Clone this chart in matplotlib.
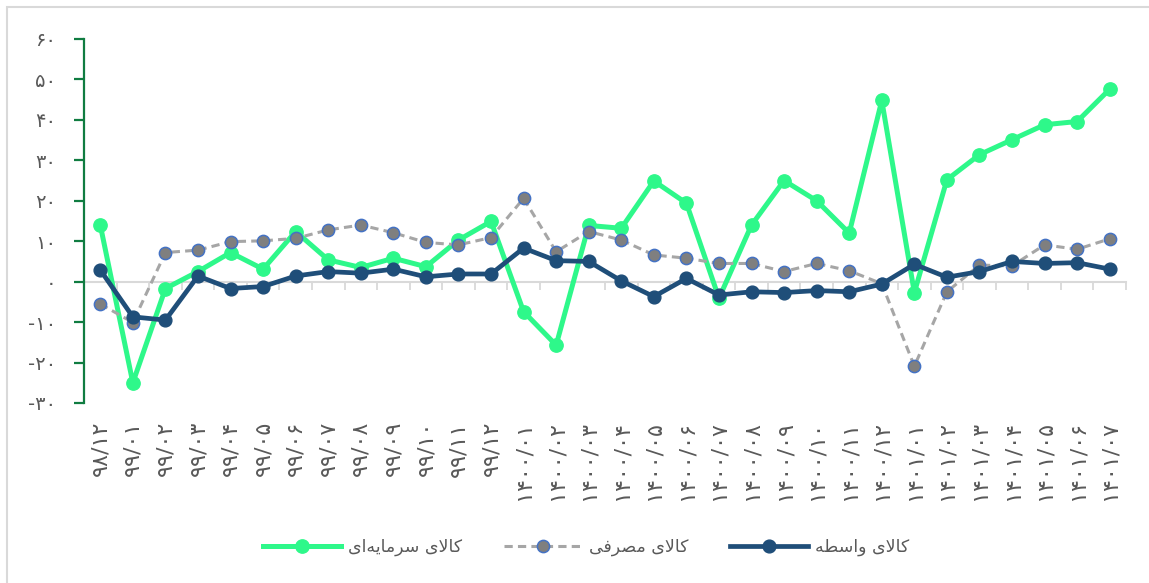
import numpy as np
import matplotlib
matplotlib.use("Agg")
import matplotlib.pyplot as plt
from matplotlib.patches import Rectangle

plt.rcParams['font.family'] = ['DejaVu Sans']

# month labels (Persian calendar)
labels = ['۹۸/۱۲',
          '۹۹/۰۱', '۹۹/۰۲', '۹۹/۰۳', '۹۹/۰۴', '۹۹/۰۵', '۹۹/۰۶',
          '۹۹/۰۷', '۹۹/۰۸', '۹۹/۰۹', '۹۹/۱۰', '۹۹/۱۱', '۹۹/۱۲',
          '۱۴۰۰/۰۱', '۱۴۰۰/۰۲', '۱۴۰۰/۰۳', '۱۴۰۰/۰۴', '۱۴۰۰/۰۵', '۱۴۰۰/۰۶',
          '۱۴۰۰/۰۷', '۱۴۰۰/۰۸', '۱۴۰۰/۰۹', '۱۴۰۰/۱۰', '۱۴۰۰/۱۱', '۱۴۰۰/۱۲',
          '۱۴۰۱/۰۱', '۱۴۰۱/۰۲', '۱۴۰۱/۰۳', '۱۴۰۱/۰۴', '۱۴۰۱/۰۵', '۱۴۰۱/۰۶',
          '۱۴۰۱/۰۷']

capital = [14.0, -25.0, -1.7, 2.5, 7.2, 3.1, 12.4, 5.4, 3.5, 5.8, 3.7, 10.3, 14.9,
           -7.4, -15.7, 13.9, 13.2, 24.9, 19.4, -4.1, 14.0, 25.0, 20.0, 12.0, 44.8,
           -2.7, 25.2, 31.4, 35.1, 38.8, 39.6, 47.6]
consumer = [-5.5, -10.1, 7.2, 7.8, 9.9, 10.1, 10.7, 12.8, 14.0, 12.1, 9.7, 9.1, 10.9,
            20.6, 7.4, 12.4, 10.3, 6.6, 5.8, 4.5, 4.5, 2.5, 4.5, 2.7, -0.5,
            -20.9, -2.5, 4.1, 3.9, 9.1, 8.0, 10.6]
intermediate = [2.9, -8.7, -9.5, 1.4, -1.7, -1.2, 1.4, 2.5, 2.1, 3.1, 1.2, 1.9, 1.9,
                8.3, 5.2, 5.0, 0.2, -3.7, 0.8, -3.3, -2.5, -2.7, -2.2, -2.5, -0.6,
                4.3, 1.1, 2.5, 5.0, 4.5, 4.7, 3.1]

names = ['کالای سرمایه‌ای', 'کالای مصرفی', 'کالای واسطه']
yticks = [-30, -20, -10, 0, 10, 20, 30, 40, 50, 60]

# --- minimal Persian shaping (matplotlib has no complex text layout) ---
FORMS = {
    'ا': ('\uFE8D', '\uFE8E', None, None),
    'ل': ('\uFEDD', '\uFEDE', '\uFEDF', '\uFEE0'),
    'ک': ('\uFB8E', '\uFB8F', '\uFB90', '\uFB91'),
    'ی': ('\uFBFC', '\uFBFD', '\uFBFE', '\uFBFF'),
    'س': ('\uFEB1', '\uFEB2', '\uFEB3', '\uFEB4'),
    'ر': ('\uFEAD', '\uFEAE', None, None),
    'م': ('\uFEE1', '\uFEE2', '\uFEE3', '\uFEE4'),
    'ه': ('\uFEE9', '\uFEEA', '\uFEEB', '\uFEEC'),
    'ص': ('\uFEB9', '\uFEBA', '\uFEBB', '\uFEBC'),
    'ف': ('\uFED1', '\uFED2', '\uFED3', '\uFED4'),
    'و': ('\uFEED', '\uFEEE', None, None),
    'ط': ('\uFEC1', '\uFEC2', '\uFEC3', '\uFEC4'),
}


def shape(text):
    words = []
    for word in text.split(' '):
        toks = []
        i = 0
        while i < len(word):
            if word[i] == 'ل' and i + 1 < len(word) and word[i + 1] == 'ا':
                toks.append('LA')
                i += 2
            else:
                toks.append(word[i])
                i += 1
        out = []
        for k, t in enumerate(toks):
            if t not in FORMS and t != 'LA':
                continue
            prev = toks[k - 1] if k > 0 else None
            nxt = toks[k + 1] if k + 1 < len(toks) else None
            jp = prev in FORMS and FORMS[prev][2] is not None
            if t == 'LA':
                out.append('\uFEFC' if jp else '\uFEFB')
                continue
            iso, fin, ini, med = FORMS[t]
            jn = ini is not None and (nxt in FORMS or nxt == 'LA')
            if jp and jn:
                out.append(med)
            elif jp:
                out.append(fin)
            elif jn:
                out.append(ini)
            else:
                out.append(iso)
        words.append(''.join(reversed(out)))
    return ' '.join(reversed(words))


def fa(n):
    s = str(abs(n)).translate(str.maketrans('0123456789', '۰۱۲۳۴۵۶۷۸۹'))
    return '-' + s if n < 0 else s


x = np.arange(len(labels))

fig = plt.figure(figsize=(11.49, 5.83), dpi=100)
ax = fig.add_axes([84 / 1149, 1 - 403 / 583, 1042 / 1149, 364 / 583])

ax.plot(x, capital, color='#2ef88a', lw=3.6, marker='o', ms=9.6,
        solid_joinstyle='round', label=shape(names[0]), zorder=3)
ax.plot(x, consumer, color='#a6a6a6', lw=2.2, ls=(0, (2.7, 1.7)), marker='o', ms=8.8,
        mfc='#7f7f7f', mec='#4472c4', mew=1.1, label=shape(names[1]), zorder=4)
ax.plot(x, intermediate, color='#1f4e79', lw=3.4, marker='o', ms=9.2,
        solid_joinstyle='round', label=shape(names[2]), zorder=5)

ax.set_xlim(-0.5, len(labels) - 0.5)
ax.set_ylim(-30, 60)

for s in ['top', 'right', 'bottom']:
    ax.spines[s].set_visible(False)
ax.spines['left'].set_color('#107c41')
ax.spines['left'].set_linewidth(1.6)

ax.set_yticks(yticks)
ax.set_yticklabels([fa(v) for v in yticks])
ax.tick_params(axis='y', direction='out', length=7, width=1.6, color='#107c41',
               labelcolor='#595959', labelsize=14, pad=13)

ax.set_xticks(x)
ax.set_xticklabels(labels, rotation=90)
ax.tick_params(axis='x', length=0, labelcolor='#595959', labelsize=16, pad=13)

# horizontal axis line at zero with category separators
zero = (0 - (-30)) / 90
sec = ax.secondary_xaxis(zero)
sec.set_xticks(np.arange(-0.5, len(labels), 1))
sec.tick_params(axis='x', direction='out', length=6, width=1.3, color='#d9d9d9',
                labelbottom=False, labeltop=False, bottom=True, top=False)
sec.spines['bottom'].set_color('#d9d9d9')
sec.spines['bottom'].set_linewidth(1.5)
sec.spines['top'].set_visible(False)

# chart frame
fig.patches.append(Rectangle((7 / 1149, -0.1), 1.5, 1.1 - 7 / 583, transform=fig.transFigure,
                             fill=False, edgecolor='#d9d9d9', lw=1.5))

fig.legend(loc='center', bbox_to_anchor=(0.51, 1 - 547 / 583), ncol=3, frameon=False,
           fontsize=12.5, labelcolor='#595959', handlelength=4.5, handletextpad=0.4,
           columnspacing=2.4)

fig.savefig('out.png', dpi=100)
